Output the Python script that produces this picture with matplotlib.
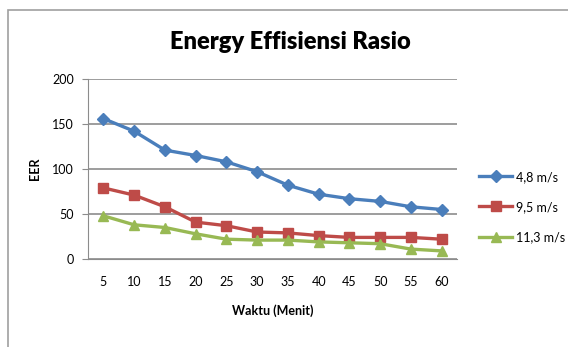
import matplotlib.pyplot as plt
from matplotlib.patches import Rectangle

waktu = [5, 10, 15, 20, 25, 30, 35, 40, 45, 50, 55, 60]
v48 = [156, 142, 121, 115, 108, 97, 82, 72, 67, 64, 58, 55]
v95 = [79, 71, 58, 41, 37, 30, 29, 26, 24, 24, 24, 22]
v113 = [48, 38, 35, 28, 22, 21, 21, 19, 18, 17, 11, 9]
labels = ["4,8 m/s", "9,5 m/s", "11,3 m/s"]

plt.rcParams['font.family'] = ['Lato', 'DejaVu Sans']

fig = plt.figure(figsize=(5.68, 3.47), dpi=100)
fig.patches.append(Rectangle((8/568, -0.1), 1.2, 1 - 10/347 + 0.1, transform=fig.transFigure,
                             fill=False, edgecolor='#a0a0a0', linewidth=1.2))
ax = fig.add_axes([88/568, 1 - 259/347, (457 - 88)/568, (259 - 79)/347])

x = range(len(waktu))
ax.plot(x, v48, color='#4A7EBB', marker='D', markersize=6, linewidth=2.4, label=labels[0])
ax.plot(x, v95, color='#BE4B48', marker='s', markersize=7, linewidth=2.4, label=labels[1])
ax.plot(x, v113, color='#98B954', marker='^', markersize=7, linewidth=2.4, label=labels[2])

ax.set_xlim(-0.5, len(waktu) - 0.5)
ax.set_ylim(0, 200)
ax.set_yticks([0, 50, 100, 150, 200])
ax.set_xticks(list(x))
ax.set_xticklabels([str(w) for w in waktu])
ax.grid(axis='y', color='#8c8c8c', linewidth=1.2)
ax.set_axisbelow(True)
for s in ['top', 'right']:
    ax.spines[s].set_visible(False)
ax.spines['left'].set_color('#8c8c8c')
ax.spines['bottom'].set_color('#8c8c8c')
ax.tick_params(axis='y', length=4, color='#8c8c8c', labelsize=9, pad=6)
ax.tick_params(axis='x', length=0, labelsize=9, pad=12)

ax.set_ylabel("EER", fontsize=9, fontweight='bold', labelpad=8)
ax.set_xlabel("Waktu (Menit)", fontsize=9, fontweight='bold', labelpad=12)
fig.text(290/568, 1 - 42/347, "Energy Effisiensi Rasio", fontsize=17, fontweight='heavy',
         ha='center', va='center')

ax.legend(loc='center left', bbox_to_anchor=(1.03, 0.29), frameon=False, fontsize=9,
          handlelength=2.6, labelspacing=1.45, handletextpad=0.3)

fig.savefig("out.png", dpi=100)
